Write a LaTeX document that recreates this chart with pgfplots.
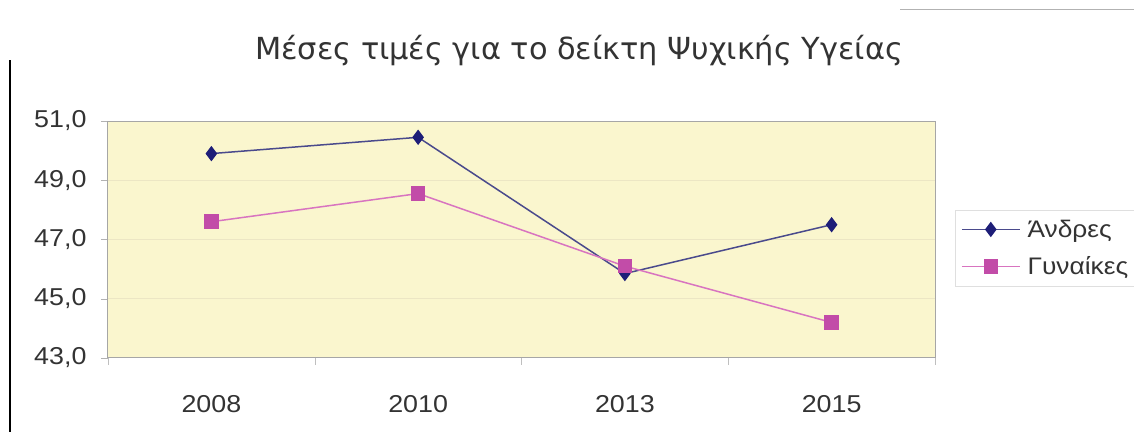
\documentclass[border=0pt]{standalone}
\usepackage{fontspec}
\setmainfont[FakeStretch=1.1]{Liberation Sans}
\newfontfamily\titlefont{DejaVu Sans}
\usepackage{pgfplots}
\pgfplotsset{compat=1.18}
\definecolor{bgyellow}{HTML}{FAF6CE}
\definecolor{gridc}{HTML}{ECE6C4}
\definecolor{andres}{HTML}{1E1E78}
\definecolor{andresl}{HTML}{4A4A8C}
\definecolor{gyn}{HTML}{C24CA8}
\definecolor{gynl}{HTML}{D874C0}
\definecolor{txt}{HTML}{333333}
\begin{document}
\begin{tikzpicture}
\useasboundingbox (0bp,0bp) rectangle (1134bp,432bp);
\draw[black,line width=2bp] (10bp,0bp) -- (10bp,372bp);
\draw[gray!60,line width=1bp] (900bp,422bp) -- (1134bp,422bp);
\begin{axis}[
  at={(108bp,74bp)}, anchor=south west,
  width=827bp, height=237bp, scale only axis,
  xmin=-0.5, xmax=3.5, ymin=43, ymax=51,
  xtick={0,1,2,3}, xticklabels={2008,2010,2013,2015},
  minor xtick={-0.5,0.5,1.5,2.5,3.5},
  ytick={43,45,47,49,51},
  major x tick style={draw=none},
  minor x tick style={gray!50},
  minor tick length=7bp,
  major tick length=7bp,
  tick align=outside,
  y tick style={gray!60},
  xtick pos=bottom, ytick pos=left,
  axis background/.style={fill=bgyellow},
  axis line style={gray!70, line width=1bp},
  ymajorgrids, grid style={gridc, line width=1bp},
  tick label style={font=\fontsize{24.5}{28}\selectfont, text=txt},
  /pgf/number format/.cd, fixed, fixed zerofill, precision=1, use comma, assume math mode=true,
  /pgfplots/.cd,
  xticklabel style={yshift=-27bp},
  yticklabel style={xshift=-11bp},
  legend style={at={(rel axis cs:1.024,0.625)}, anchor=north west,
    draw=gray!25, fill=white, font=\fontsize{24}{28}\selectfont,
    text=txt, row sep=14bp, inner xsep=6bp, inner ysep=8bp,
    /tikz/every odd column/.style={column sep=5bp}},
  legend cell align=left,
  legend image code/.code={
    \draw[#1, mark repeat=2, mark phase=2] plot coordinates {(0bp,0bp) (29bp,0bp) (58bp,0bp)};
  },
]
\addplot[andresl, line width=1.5bp, mark=diamond*, mark size=6.5bp,
  mark options={fill=andres, draw=andres}] coordinates {(0,49.9) (1,50.45) (2,45.85) (3,47.5)};
\addlegendentry{Άνδρες}
\addplot[gynl, line width=1.5bp, mark=square*, mark size=6.5bp,
  mark options={fill=gyn, draw=gyn}] coordinates {(0,47.6) (1,48.55) (2,46.1) (3,44.2)};
\addlegendentry{Γυναίκες}
\end{axis}
\node[font=\titlefont\fontsize{30.5}{34}\selectfont, text=txt] at (579bp,381bp) {Μέσες τιμές για το δείκτη Ψυχικής Υγείας};
\end{tikzpicture}
\end{document}
